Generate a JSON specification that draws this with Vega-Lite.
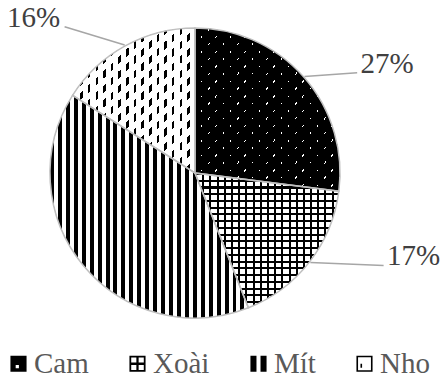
{
  "$schema": "https://vega.github.io/schema/vega-lite/v6.json",
  "width": 390,
  "height": 346,
  "autosize": {"type": "none"},
  "padding": {"left": 0, "top": 0, "right": 53, "bottom": 38},
  "background": "#ffffff",
  "config": {"view": {"stroke": null}},
  "data": {"values": [
    {"k": "Cam", "v": 27},
    {"k": "Xoài", "v": 17},
    {"k": "Mít", "v": 40},
    {"k": "Nho", "v": 16}
  ]},
  "transform": [
    {"window": [{"op": "sum", "field": "v", "as": "s1"}], "frame": [null, 0]},
    {"calculate": "datum.s1 - datum.v", "as": "s0"}
  ],
  "encoding": {
    "theta": {"field": "s0", "type": "quantitative", "scale": {"domain": [0, 100]}},
    "theta2": {"field": "s1"}
  },
  "layer": [
    {
      "mark": {"type": "arc", "radius": 145, "strokeWidth": 0},
      "encoding": {
        "color": {
          "field": "k", "type": "nominal",
          "scale": {"domain": ["Cam", "Xoài", "Mít", "Nho"], "range": ["#000000", "#000000", "#000000", "#000000"]},
          "legend": {
            "orient": "none", "legendX": 4, "legendY": 349, "direction": "horizontal", "title": null,
            "symbolType": "square", "symbolSize": 260, "symbolStrokeWidth": 0,
            "labelFont": "Liberation Serif", "labelFontSize": 29, "labelColor": "#595959", "labelOffset": 1,
            "columnPadding": 34,
            "encode": {"symbols": {"update": {
              "shape": {"signal": "datum.value === 'Cam' ? 'M-1,-1H1V1H-1Z M-0.35,0.15V0.55H0.05V0.15Z' : datum.value === 'Xoài' ? 'M-1,-1H1V1H-1Z M-0.78,-0.78V0.78H0.78V-0.78Z M-0.14,-1H0.14V1H-0.14Z M-1,-0.14H1V0.14H-1Z' : datum.value === 'Mít' ? 'M-1,-1H-0.25V1H-1Z M0.25,-1H1V1H0.25Z' : 'M-1,-1H1V1H-1Z M-0.8,-0.8V0.8H0.8V-0.8Z M-0.5,0H-0.3V0.5H-0.5Z'"},
              "stroke": {"value": "transparent"}
            }}}
          }
        }
      }
    },
    {
      "transform": [{"filter": "datum.k === 'Mít'"}],
      "mark": {"type": "arc", "radius": 145, "strokeWidth": 0, "fill": {"gradient": "linear", "x1": 0, "y1": 0, "x2": 1, "y2": 0, "stops": [
        {"offset":0,"color":"#000"},{"offset":0.02,"color":"#000"},{"offset":0.02,"color":"#fff"},{"offset":0.04,"color":"#fff"},
        {"offset":0.04,"color":"#000"},{"offset":0.06,"color":"#000"},{"offset":0.06,"color":"#fff"},{"offset":0.08,"color":"#fff"},
        {"offset":0.08,"color":"#000"},{"offset":0.1,"color":"#000"},{"offset":0.1,"color":"#fff"},{"offset":0.12,"color":"#fff"},
        {"offset":0.12,"color":"#000"},{"offset":0.14,"color":"#000"},{"offset":0.14,"color":"#fff"},{"offset":0.16,"color":"#fff"},
        {"offset":0.16,"color":"#000"},{"offset":0.18,"color":"#000"},{"offset":0.18,"color":"#fff"},{"offset":0.2,"color":"#fff"},
        {"offset":0.2,"color":"#000"},{"offset":0.22,"color":"#000"},{"offset":0.22,"color":"#fff"},{"offset":0.24,"color":"#fff"},
        {"offset":0.24,"color":"#000"},{"offset":0.26,"color":"#000"},{"offset":0.26,"color":"#fff"},{"offset":0.28,"color":"#fff"},
        {"offset":0.28,"color":"#000"},{"offset":0.3,"color":"#000"},{"offset":0.3,"color":"#fff"},{"offset":0.32,"color":"#fff"},
        {"offset":0.32,"color":"#000"},{"offset":0.34,"color":"#000"},{"offset":0.34,"color":"#fff"},{"offset":0.36,"color":"#fff"},
        {"offset":0.36,"color":"#000"},{"offset":0.38,"color":"#000"},{"offset":0.38,"color":"#fff"},{"offset":0.4,"color":"#fff"},
        {"offset":0.4,"color":"#000"},{"offset":0.42,"color":"#000"},{"offset":0.42,"color":"#fff"},{"offset":0.44,"color":"#fff"},
        {"offset":0.44,"color":"#000"},{"offset":0.46,"color":"#000"},{"offset":0.46,"color":"#fff"},{"offset":0.48,"color":"#fff"},
        {"offset":0.48,"color":"#000"},{"offset":0.5,"color":"#000"},{"offset":0.5,"color":"#fff"},{"offset":0.52,"color":"#fff"},
        {"offset":0.52,"color":"#000"},{"offset":0.54,"color":"#000"},{"offset":0.54,"color":"#fff"},{"offset":0.56,"color":"#fff"},
        {"offset":0.56,"color":"#000"},{"offset":0.58,"color":"#000"},{"offset":0.58,"color":"#fff"},{"offset":0.6,"color":"#fff"},
        {"offset":0.6,"color":"#000"},{"offset":0.62,"color":"#000"},{"offset":0.62,"color":"#fff"},{"offset":0.64,"color":"#fff"},
        {"offset":0.64,"color":"#000"},{"offset":0.66,"color":"#000"},{"offset":0.66,"color":"#fff"},{"offset":0.68,"color":"#fff"},
        {"offset":0.68,"color":"#000"},{"offset":0.7,"color":"#000"},{"offset":0.7,"color":"#fff"},{"offset":0.72,"color":"#fff"},
        {"offset":0.72,"color":"#000"},{"offset":0.74,"color":"#000"},{"offset":0.74,"color":"#fff"},{"offset":0.76,"color":"#fff"},
        {"offset":0.76,"color":"#000"},{"offset":0.78,"color":"#000"},{"offset":0.78,"color":"#fff"},{"offset":0.8,"color":"#fff"},
        {"offset":0.8,"color":"#000"},{"offset":0.82,"color":"#000"},{"offset":0.82,"color":"#fff"},{"offset":0.84,"color":"#fff"},
        {"offset":0.84,"color":"#000"},{"offset":0.86,"color":"#000"},{"offset":0.86,"color":"#fff"},{"offset":0.88,"color":"#fff"},
        {"offset":0.88,"color":"#000"},{"offset":0.9,"color":"#000"},{"offset":0.9,"color":"#fff"},{"offset":0.92,"color":"#fff"},
        {"offset":0.92,"color":"#000"},{"offset":0.94,"color":"#000"},{"offset":0.94,"color":"#fff"},{"offset":0.96,"color":"#fff"},
        {"offset":0.96,"color":"#000"},{"offset":0.98,"color":"#000"},{"offset":0.98,"color":"#fff"},{"offset":1,"color":"#fff"}
      ]}}
    },
    {
      "transform": [{"filter": "datum.k === 'Xoài'"}],
      "mark": {"type": "arc", "radius": 145, "strokeWidth": 0, "fill": {"gradient": "linear", "x1": 0, "y1": 0, "x2": 0, "y2": 1, "stops": [
        {"offset":0,"color":"#000"},{"offset":0.015,"color":"#000"},{"offset":0.015,"color":"#fff"},{"offset":0.05,"color":"#fff"},
        {"offset":0.05,"color":"#000"},{"offset":0.065,"color":"#000"},{"offset":0.065,"color":"#fff"},{"offset":0.1,"color":"#fff"},
        {"offset":0.1,"color":"#000"},{"offset":0.115,"color":"#000"},{"offset":0.115,"color":"#fff"},{"offset":0.15,"color":"#fff"},
        {"offset":0.15,"color":"#000"},{"offset":0.165,"color":"#000"},{"offset":0.165,"color":"#fff"},{"offset":0.2,"color":"#fff"},
        {"offset":0.2,"color":"#000"},{"offset":0.215,"color":"#000"},{"offset":0.215,"color":"#fff"},{"offset":0.25,"color":"#fff"},
        {"offset":0.25,"color":"#000"},{"offset":0.265,"color":"#000"},{"offset":0.265,"color":"#fff"},{"offset":0.3,"color":"#fff"},
        {"offset":0.3,"color":"#000"},{"offset":0.315,"color":"#000"},{"offset":0.315,"color":"#fff"},{"offset":0.35,"color":"#fff"},
        {"offset":0.35,"color":"#000"},{"offset":0.365,"color":"#000"},{"offset":0.365,"color":"#fff"},{"offset":0.4,"color":"#fff"},
        {"offset":0.4,"color":"#000"},{"offset":0.415,"color":"#000"},{"offset":0.415,"color":"#fff"},{"offset":0.45,"color":"#fff"},
        {"offset":0.45,"color":"#000"},{"offset":0.465,"color":"#000"},{"offset":0.465,"color":"#fff"},{"offset":0.5,"color":"#fff"},
        {"offset":0.5,"color":"#000"},{"offset":0.515,"color":"#000"},{"offset":0.515,"color":"#fff"},{"offset":0.55,"color":"#fff"},
        {"offset":0.55,"color":"#000"},{"offset":0.565,"color":"#000"},{"offset":0.565,"color":"#fff"},{"offset":0.6,"color":"#fff"},
        {"offset":0.6,"color":"#000"},{"offset":0.615,"color":"#000"},{"offset":0.615,"color":"#fff"},{"offset":0.65,"color":"#fff"},
        {"offset":0.65,"color":"#000"},{"offset":0.665,"color":"#000"},{"offset":0.665,"color":"#fff"},{"offset":0.7,"color":"#fff"},
        {"offset":0.7,"color":"#000"},{"offset":0.715,"color":"#000"},{"offset":0.715,"color":"#fff"},{"offset":0.75,"color":"#fff"},
        {"offset":0.75,"color":"#000"},{"offset":0.765,"color":"#000"},{"offset":0.765,"color":"#fff"},{"offset":0.8,"color":"#fff"},
        {"offset":0.8,"color":"#000"},{"offset":0.815,"color":"#000"},{"offset":0.815,"color":"#fff"},{"offset":0.85,"color":"#fff"},
        {"offset":0.85,"color":"#000"},{"offset":0.865,"color":"#000"},{"offset":0.865,"color":"#fff"},{"offset":0.9,"color":"#fff"},
        {"offset":0.9,"color":"#000"},{"offset":0.915,"color":"#000"},{"offset":0.915,"color":"#fff"},{"offset":0.95,"color":"#fff"},
        {"offset":0.95,"color":"#000"},{"offset":0.965,"color":"#000"},{"offset":0.965,"color":"#fff"},{"offset":1,"color":"#fff"}
      ]}}
    },
    {
      "transform": [{"filter": "datum.k === 'Xoài'"}],
      "mark": {"type": "arc", "radius": 145, "strokeWidth": 0, "fill": {"gradient": "linear", "x1": 0, "y1": 0, "x2": 1, "y2": 0, "stops": [
        {"offset":0,"color":"#000"},{"offset":0.014,"color":"#000"},{"offset":0.014,"color":"rgba(0,0,0,0)"},{"offset":0.05,"color":"rgba(0,0,0,0)"},
        {"offset":0.05,"color":"#000"},{"offset":0.064,"color":"#000"},{"offset":0.064,"color":"rgba(0,0,0,0)"},{"offset":0.1,"color":"rgba(0,0,0,0)"},
        {"offset":0.1,"color":"#000"},{"offset":0.114,"color":"#000"},{"offset":0.114,"color":"rgba(0,0,0,0)"},{"offset":0.15,"color":"rgba(0,0,0,0)"},
        {"offset":0.15,"color":"#000"},{"offset":0.164,"color":"#000"},{"offset":0.164,"color":"rgba(0,0,0,0)"},{"offset":0.2,"color":"rgba(0,0,0,0)"},
        {"offset":0.2,"color":"#000"},{"offset":0.214,"color":"#000"},{"offset":0.214,"color":"rgba(0,0,0,0)"},{"offset":0.25,"color":"rgba(0,0,0,0)"},
        {"offset":0.25,"color":"#000"},{"offset":0.264,"color":"#000"},{"offset":0.264,"color":"rgba(0,0,0,0)"},{"offset":0.3,"color":"rgba(0,0,0,0)"},
        {"offset":0.3,"color":"#000"},{"offset":0.314,"color":"#000"},{"offset":0.314,"color":"rgba(0,0,0,0)"},{"offset":0.35,"color":"rgba(0,0,0,0)"},
        {"offset":0.35,"color":"#000"},{"offset":0.364,"color":"#000"},{"offset":0.364,"color":"rgba(0,0,0,0)"},{"offset":0.4,"color":"rgba(0,0,0,0)"},
        {"offset":0.4,"color":"#000"},{"offset":0.414,"color":"#000"},{"offset":0.414,"color":"rgba(0,0,0,0)"},{"offset":0.45,"color":"rgba(0,0,0,0)"},
        {"offset":0.45,"color":"#000"},{"offset":0.464,"color":"#000"},{"offset":0.464,"color":"rgba(0,0,0,0)"},{"offset":0.5,"color":"rgba(0,0,0,0)"},
        {"offset":0.5,"color":"#000"},{"offset":0.514,"color":"#000"},{"offset":0.514,"color":"rgba(0,0,0,0)"},{"offset":0.55,"color":"rgba(0,0,0,0)"},
        {"offset":0.55,"color":"#000"},{"offset":0.564,"color":"#000"},{"offset":0.564,"color":"rgba(0,0,0,0)"},{"offset":0.6,"color":"rgba(0,0,0,0)"},
        {"offset":0.6,"color":"#000"},{"offset":0.614,"color":"#000"},{"offset":0.614,"color":"rgba(0,0,0,0)"},{"offset":0.65,"color":"rgba(0,0,0,0)"},
        {"offset":0.65,"color":"#000"},{"offset":0.664,"color":"#000"},{"offset":0.664,"color":"rgba(0,0,0,0)"},{"offset":0.7,"color":"rgba(0,0,0,0)"},
        {"offset":0.7,"color":"#000"},{"offset":0.714,"color":"#000"},{"offset":0.714,"color":"rgba(0,0,0,0)"},{"offset":0.75,"color":"rgba(0,0,0,0)"},
        {"offset":0.75,"color":"#000"},{"offset":0.764,"color":"#000"},{"offset":0.764,"color":"rgba(0,0,0,0)"},{"offset":0.8,"color":"rgba(0,0,0,0)"},
        {"offset":0.8,"color":"#000"},{"offset":0.814,"color":"#000"},{"offset":0.814,"color":"rgba(0,0,0,0)"},{"offset":0.85,"color":"rgba(0,0,0,0)"},
        {"offset":0.85,"color":"#000"},{"offset":0.864,"color":"#000"},{"offset":0.864,"color":"rgba(0,0,0,0)"},{"offset":0.9,"color":"rgba(0,0,0,0)"},
        {"offset":0.9,"color":"#000"},{"offset":0.914,"color":"#000"},{"offset":0.914,"color":"rgba(0,0,0,0)"},{"offset":0.95,"color":"rgba(0,0,0,0)"},
        {"offset":0.95,"color":"#000"},{"offset":0.964,"color":"#000"},{"offset":0.964,"color":"rgba(0,0,0,0)"},{"offset":1,"color":"rgba(0,0,0,0)"}
      ]}}
    },
    {
      "transform": [{"filter": "datum.k === 'Cam'"}],
      "mark": {"type": "arc", "radius": 145, "strokeWidth": 0, "fill": {"gradient": "linear", "x1": 0, "y1": 0, "x2": 1, "y2": 0, "stops": [
        {"offset":0,"color":"rgba(0,0,0,0)"},{"offset":0.04,"color":"rgba(0,0,0,0)"},{"offset":0.04,"color":"#fff"},{"offset":0.05,"color":"#fff"},
        {"offset":0.05,"color":"rgba(0,0,0,0)"},{"offset":0.09,"color":"rgba(0,0,0,0)"},{"offset":0.09,"color":"#fff"},{"offset":0.1,"color":"#fff"},
        {"offset":0.1,"color":"rgba(0,0,0,0)"},{"offset":0.14,"color":"rgba(0,0,0,0)"},{"offset":0.14,"color":"#fff"},{"offset":0.15,"color":"#fff"},
        {"offset":0.15,"color":"rgba(0,0,0,0)"},{"offset":0.19,"color":"rgba(0,0,0,0)"},{"offset":0.19,"color":"#fff"},{"offset":0.2,"color":"#fff"},
        {"offset":0.2,"color":"rgba(0,0,0,0)"},{"offset":0.24,"color":"rgba(0,0,0,0)"},{"offset":0.24,"color":"#fff"},{"offset":0.25,"color":"#fff"},
        {"offset":0.25,"color":"rgba(0,0,0,0)"},{"offset":0.29,"color":"rgba(0,0,0,0)"},{"offset":0.29,"color":"#fff"},{"offset":0.3,"color":"#fff"},
        {"offset":0.3,"color":"rgba(0,0,0,0)"},{"offset":0.34,"color":"rgba(0,0,0,0)"},{"offset":0.34,"color":"#fff"},{"offset":0.35,"color":"#fff"},
        {"offset":0.35,"color":"rgba(0,0,0,0)"},{"offset":0.39,"color":"rgba(0,0,0,0)"},{"offset":0.39,"color":"#fff"},{"offset":0.4,"color":"#fff"},
        {"offset":0.4,"color":"rgba(0,0,0,0)"},{"offset":0.44,"color":"rgba(0,0,0,0)"},{"offset":0.44,"color":"#fff"},{"offset":0.45,"color":"#fff"},
        {"offset":0.45,"color":"rgba(0,0,0,0)"},{"offset":0.49,"color":"rgba(0,0,0,0)"},{"offset":0.49,"color":"#fff"},{"offset":0.5,"color":"#fff"},
        {"offset":0.5,"color":"rgba(0,0,0,0)"},{"offset":0.54,"color":"rgba(0,0,0,0)"},{"offset":0.54,"color":"#fff"},{"offset":0.55,"color":"#fff"},
        {"offset":0.55,"color":"rgba(0,0,0,0)"},{"offset":0.59,"color":"rgba(0,0,0,0)"},{"offset":0.59,"color":"#fff"},{"offset":0.6,"color":"#fff"},
        {"offset":0.6,"color":"rgba(0,0,0,0)"},{"offset":0.64,"color":"rgba(0,0,0,0)"},{"offset":0.64,"color":"#fff"},{"offset":0.65,"color":"#fff"},
        {"offset":0.65,"color":"rgba(0,0,0,0)"},{"offset":0.69,"color":"rgba(0,0,0,0)"},{"offset":0.69,"color":"#fff"},{"offset":0.7,"color":"#fff"},
        {"offset":0.7,"color":"rgba(0,0,0,0)"},{"offset":0.74,"color":"rgba(0,0,0,0)"},{"offset":0.74,"color":"#fff"},{"offset":0.75,"color":"#fff"},
        {"offset":0.75,"color":"rgba(0,0,0,0)"},{"offset":0.79,"color":"rgba(0,0,0,0)"},{"offset":0.79,"color":"#fff"},{"offset":0.8,"color":"#fff"},
        {"offset":0.8,"color":"rgba(0,0,0,0)"},{"offset":0.84,"color":"rgba(0,0,0,0)"},{"offset":0.84,"color":"#fff"},{"offset":0.85,"color":"#fff"},
        {"offset":0.85,"color":"rgba(0,0,0,0)"},{"offset":0.89,"color":"rgba(0,0,0,0)"},{"offset":0.89,"color":"#fff"},{"offset":0.9,"color":"#fff"},
        {"offset":0.9,"color":"rgba(0,0,0,0)"},{"offset":0.94,"color":"rgba(0,0,0,0)"},{"offset":0.94,"color":"#fff"},{"offset":0.95,"color":"#fff"},
        {"offset":0.95,"color":"rgba(0,0,0,0)"},{"offset":0.99,"color":"rgba(0,0,0,0)"},{"offset":0.99,"color":"#fff"},{"offset":1,"color":"#fff"}
      ]}}
    },
    {
      "transform": [{"filter": "datum.k === 'Cam'"}],
      "mark": {"type": "arc", "radius": 145, "strokeWidth": 0, "fill": {"gradient": "linear", "x1": 0, "y1": 0, "x2": 0.9502, "y2": 1.0452, "stops": [
        {"offset":0,"color":"rgba(0,0,0,0)"},{"offset":0.0048,"color":"rgba(0,0,0,0)"},{"offset":0.0048,"color":"#000"},{"offset":0.0476,"color":"#000"},
        {"offset":0.0476,"color":"rgba(0,0,0,0)"},{"offset":0.0524,"color":"rgba(0,0,0,0)"},{"offset":0.0524,"color":"#000"},{"offset":0.0952,"color":"#000"},
        {"offset":0.0952,"color":"rgba(0,0,0,0)"},{"offset":0.1,"color":"rgba(0,0,0,0)"},{"offset":0.1,"color":"#000"},{"offset":0.1429,"color":"#000"},
        {"offset":0.1429,"color":"rgba(0,0,0,0)"},{"offset":0.1477,"color":"rgba(0,0,0,0)"},{"offset":0.1477,"color":"#000"},{"offset":0.1905,"color":"#000"},
        {"offset":0.1905,"color":"rgba(0,0,0,0)"},{"offset":0.1953,"color":"rgba(0,0,0,0)"},{"offset":0.1953,"color":"#000"},{"offset":0.2381,"color":"#000"},
        {"offset":0.2381,"color":"rgba(0,0,0,0)"},{"offset":0.2429,"color":"rgba(0,0,0,0)"},{"offset":0.2429,"color":"#000"},{"offset":0.2857,"color":"#000"},
        {"offset":0.2857,"color":"rgba(0,0,0,0)"},{"offset":0.2905,"color":"rgba(0,0,0,0)"},{"offset":0.2905,"color":"#000"},{"offset":0.3333,"color":"#000"},
        {"offset":0.3333,"color":"rgba(0,0,0,0)"},{"offset":0.3381,"color":"rgba(0,0,0,0)"},{"offset":0.3381,"color":"#000"},{"offset":0.381,"color":"#000"},
        {"offset":0.381,"color":"rgba(0,0,0,0)"},{"offset":0.3858,"color":"rgba(0,0,0,0)"},{"offset":0.3858,"color":"#000"},{"offset":0.4286,"color":"#000"},
        {"offset":0.4286,"color":"rgba(0,0,0,0)"},{"offset":0.4334,"color":"rgba(0,0,0,0)"},{"offset":0.4334,"color":"#000"},{"offset":0.4762,"color":"#000"},
        {"offset":0.4762,"color":"rgba(0,0,0,0)"},{"offset":0.481,"color":"rgba(0,0,0,0)"},{"offset":0.481,"color":"#000"},{"offset":0.5238,"color":"#000"},
        {"offset":0.5238,"color":"rgba(0,0,0,0)"},{"offset":0.5286,"color":"rgba(0,0,0,0)"},{"offset":0.5286,"color":"#000"},{"offset":0.5714,"color":"#000"},
        {"offset":0.5714,"color":"rgba(0,0,0,0)"},{"offset":0.5762,"color":"rgba(0,0,0,0)"},{"offset":0.5762,"color":"#000"},{"offset":0.619,"color":"#000"},
        {"offset":0.619,"color":"rgba(0,0,0,0)"},{"offset":0.6238,"color":"rgba(0,0,0,0)"},{"offset":0.6238,"color":"#000"},{"offset":0.6667,"color":"#000"},
        {"offset":0.6667,"color":"rgba(0,0,0,0)"},{"offset":0.6715,"color":"rgba(0,0,0,0)"},{"offset":0.6715,"color":"#000"},{"offset":0.7143,"color":"#000"},
        {"offset":0.7143,"color":"rgba(0,0,0,0)"},{"offset":0.7191,"color":"rgba(0,0,0,0)"},{"offset":0.7191,"color":"#000"},{"offset":0.7619,"color":"#000"},
        {"offset":0.7619,"color":"rgba(0,0,0,0)"},{"offset":0.7667,"color":"rgba(0,0,0,0)"},{"offset":0.7667,"color":"#000"},{"offset":0.8095,"color":"#000"},
        {"offset":0.8095,"color":"rgba(0,0,0,0)"},{"offset":0.8143,"color":"rgba(0,0,0,0)"},{"offset":0.8143,"color":"#000"},{"offset":0.8571,"color":"#000"},
        {"offset":0.8571,"color":"rgba(0,0,0,0)"},{"offset":0.8619,"color":"rgba(0,0,0,0)"},{"offset":0.8619,"color":"#000"},{"offset":0.9048,"color":"#000"},
        {"offset":0.9048,"color":"rgba(0,0,0,0)"},{"offset":0.9096,"color":"rgba(0,0,0,0)"},{"offset":0.9096,"color":"#000"},{"offset":0.9524,"color":"#000"},
        {"offset":0.9524,"color":"rgba(0,0,0,0)"},{"offset":0.9572,"color":"rgba(0,0,0,0)"},{"offset":0.9572,"color":"#000"},{"offset":1,"color":"#000"}
      ]}}
    },
    {
      "transform": [{"filter": "datum.k === 'Nho'"}],
      "mark": {"type": "arc", "radius": 145, "strokeWidth": 0, "fill": {"gradient": "linear", "x1": 0, "y1": 0, "x2": 1, "y2": 0, "stops": [
        {"offset":0,"color":"#000"},{"offset":0.02,"color":"#000"},{"offset":0.02,"color":"#fff"},{"offset":0.0625,"color":"#fff"},
        {"offset":0.0625,"color":"#000"},{"offset":0.0825,"color":"#000"},{"offset":0.0825,"color":"#fff"},{"offset":0.125,"color":"#fff"},
        {"offset":0.125,"color":"#000"},{"offset":0.145,"color":"#000"},{"offset":0.145,"color":"#fff"},{"offset":0.1875,"color":"#fff"},
        {"offset":0.1875,"color":"#000"},{"offset":0.2075,"color":"#000"},{"offset":0.2075,"color":"#fff"},{"offset":0.25,"color":"#fff"},
        {"offset":0.25,"color":"#000"},{"offset":0.27,"color":"#000"},{"offset":0.27,"color":"#fff"},{"offset":0.3125,"color":"#fff"},
        {"offset":0.3125,"color":"#000"},{"offset":0.3325,"color":"#000"},{"offset":0.3325,"color":"#fff"},{"offset":0.375,"color":"#fff"},
        {"offset":0.375,"color":"#000"},{"offset":0.395,"color":"#000"},{"offset":0.395,"color":"#fff"},{"offset":0.4375,"color":"#fff"},
        {"offset":0.4375,"color":"#000"},{"offset":0.4575,"color":"#000"},{"offset":0.4575,"color":"#fff"},{"offset":0.5,"color":"#fff"},
        {"offset":0.5,"color":"#000"},{"offset":0.52,"color":"#000"},{"offset":0.52,"color":"#fff"},{"offset":0.5625,"color":"#fff"},
        {"offset":0.5625,"color":"#000"},{"offset":0.5825,"color":"#000"},{"offset":0.5825,"color":"#fff"},{"offset":0.625,"color":"#fff"},
        {"offset":0.625,"color":"#000"},{"offset":0.645,"color":"#000"},{"offset":0.645,"color":"#fff"},{"offset":0.6875,"color":"#fff"},
        {"offset":0.6875,"color":"#000"},{"offset":0.7075,"color":"#000"},{"offset":0.7075,"color":"#fff"},{"offset":0.75,"color":"#fff"},
        {"offset":0.75,"color":"#000"},{"offset":0.77,"color":"#000"},{"offset":0.77,"color":"#fff"},{"offset":0.8125,"color":"#fff"},
        {"offset":0.8125,"color":"#000"},{"offset":0.8325,"color":"#000"},{"offset":0.8325,"color":"#fff"},{"offset":0.875,"color":"#fff"},
        {"offset":0.875,"color":"#000"},{"offset":0.895,"color":"#000"},{"offset":0.895,"color":"#fff"},{"offset":0.9375,"color":"#fff"},
        {"offset":0.9375,"color":"#000"},{"offset":0.9575,"color":"#000"},{"offset":0.9575,"color":"#fff"},{"offset":1,"color":"#fff"}
      ]}}
    },
    {
      "transform": [{"filter": "datum.k === 'Nho'"}],
      "mark": {"type": "arc", "radius": 145, "strokeWidth": 0, "fill": {"gradient": "linear", "x1": 0, "y1": 0, "x2": 0.878, "y2": 1.0976, "stops": [
        {"offset":0,"color":"rgba(0,0,0,0)"},{"offset":0.0278,"color":"rgba(0,0,0,0)"},{"offset":0.0278,"color":"#fff"},{"offset":0.0556,"color":"#fff"},
        {"offset":0.0556,"color":"rgba(0,0,0,0)"},{"offset":0.0833,"color":"rgba(0,0,0,0)"},{"offset":0.0833,"color":"#fff"},{"offset":0.1111,"color":"#fff"},
        {"offset":0.1111,"color":"rgba(0,0,0,0)"},{"offset":0.1389,"color":"rgba(0,0,0,0)"},{"offset":0.1389,"color":"#fff"},{"offset":0.1667,"color":"#fff"},
        {"offset":0.1667,"color":"rgba(0,0,0,0)"},{"offset":0.1944,"color":"rgba(0,0,0,0)"},{"offset":0.1944,"color":"#fff"},{"offset":0.2222,"color":"#fff"},
        {"offset":0.2222,"color":"rgba(0,0,0,0)"},{"offset":0.25,"color":"rgba(0,0,0,0)"},{"offset":0.25,"color":"#fff"},{"offset":0.2778,"color":"#fff"},
        {"offset":0.2778,"color":"rgba(0,0,0,0)"},{"offset":0.3056,"color":"rgba(0,0,0,0)"},{"offset":0.3056,"color":"#fff"},{"offset":0.3333,"color":"#fff"},
        {"offset":0.3333,"color":"rgba(0,0,0,0)"},{"offset":0.3611,"color":"rgba(0,0,0,0)"},{"offset":0.3611,"color":"#fff"},{"offset":0.3889,"color":"#fff"},
        {"offset":0.3889,"color":"rgba(0,0,0,0)"},{"offset":0.4167,"color":"rgba(0,0,0,0)"},{"offset":0.4167,"color":"#fff"},{"offset":0.4444,"color":"#fff"},
        {"offset":0.4444,"color":"rgba(0,0,0,0)"},{"offset":0.4722,"color":"rgba(0,0,0,0)"},{"offset":0.4722,"color":"#fff"},{"offset":0.5,"color":"#fff"},
        {"offset":0.5,"color":"rgba(0,0,0,0)"},{"offset":0.5278,"color":"rgba(0,0,0,0)"},{"offset":0.5278,"color":"#fff"},{"offset":0.5556,"color":"#fff"},
        {"offset":0.5556,"color":"rgba(0,0,0,0)"},{"offset":0.5833,"color":"rgba(0,0,0,0)"},{"offset":0.5833,"color":"#fff"},{"offset":0.6111,"color":"#fff"},
        {"offset":0.6111,"color":"rgba(0,0,0,0)"},{"offset":0.6389,"color":"rgba(0,0,0,0)"},{"offset":0.6389,"color":"#fff"},{"offset":0.6667,"color":"#fff"},
        {"offset":0.6667,"color":"rgba(0,0,0,0)"},{"offset":0.6944,"color":"rgba(0,0,0,0)"},{"offset":0.6944,"color":"#fff"},{"offset":0.7222,"color":"#fff"},
        {"offset":0.7222,"color":"rgba(0,0,0,0)"},{"offset":0.75,"color":"rgba(0,0,0,0)"},{"offset":0.75,"color":"#fff"},{"offset":0.7778,"color":"#fff"},
        {"offset":0.7778,"color":"rgba(0,0,0,0)"},{"offset":0.8056,"color":"rgba(0,0,0,0)"},{"offset":0.8056,"color":"#fff"},{"offset":0.8333,"color":"#fff"},
        {"offset":0.8333,"color":"rgba(0,0,0,0)"},{"offset":0.8611,"color":"rgba(0,0,0,0)"},{"offset":0.8611,"color":"#fff"},{"offset":0.8889,"color":"#fff"},
        {"offset":0.8889,"color":"rgba(0,0,0,0)"},{"offset":0.9167,"color":"rgba(0,0,0,0)"},{"offset":0.9167,"color":"#fff"},{"offset":0.9444,"color":"#fff"},
        {"offset":0.9444,"color":"rgba(0,0,0,0)"},{"offset":0.9722,"color":"rgba(0,0,0,0)"},{"offset":0.9722,"color":"#fff"},{"offset":1,"color":"#fff"}
      ]}}
    },
    {
      "mark": {"type": "arc", "radius": 145, "filled": false, "stroke": "#bfbfbf", "strokeWidth": 1.5}
    },
    {
      "transform": [
        {"filter": "datum.k !== 'Mít'"},
        {"calculate": "PI * (datum.s0 + datum.s1) / 100", "as": "a"},
        {"calculate": "datum.k === 'Cam' ? 0.206 : datum.k === 'Xoài' ? -0.295 : -0.302", "as": "sh"},
        {"calculate": "datum.k === 'Cam' ? 221 : datum.k === 'Xoài' ? 234 : 224", "as": "lr"},
        {"calculate": "datum.lr * sin(datum.a + datum.sh)", "as": "lx"},
        {"calculate": "datum.lr * cos(datum.a + datum.sh)", "as": "ly"},
        {"calculate": "146 * sin(datum.a)", "as": "sx"},
        {"calculate": "146 * cos(datum.a)", "as": "sy"},
        {"calculate": "datum.lx + (datum.lx > 0 ? -30 : 31)", "as": "ex"},
        {"calculate": "datum.ly - 9", "as": "ey"},
        {"calculate": "datum.v + '%'", "as": "lbl"}
      ],
      "layer": [
        {
          "mark": {"type": "rule", "color": "#a6a6a6", "strokeWidth": 1.5},
          "encoding": {
            "x": {"field": "sx", "type": "quantitative", "scale": {"domain": [-195, 195], "nice": false, "zero": false}, "axis": null},
            "y": {"field": "sy", "type": "quantitative", "scale": {"domain": [-173, 173], "nice": false, "zero": false}, "axis": null},
            "x2": {"field": "ex"},
            "y2": {"field": "ey"}
          }
        },
        {
          "mark": {"type": "text", "font": "Liberation Serif", "fontSize": 29, "color": "#404040", "align": "center", "baseline": "middle"},
          "encoding": {
            "x": {"field": "lx", "type": "quantitative", "scale": {"domain": [-195, 195], "nice": false, "zero": false}, "axis": null},
            "y": {"field": "ly", "type": "quantitative", "scale": {"domain": [-173, 173], "nice": false, "zero": false}, "axis": null},
            "text": {"field": "lbl"}
          }
        }
      ]
    }
  ]
}
